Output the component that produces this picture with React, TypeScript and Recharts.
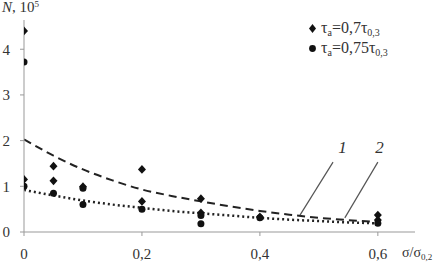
import React from 'react';
import {
  ComposedChart, Line, Scatter, XAxis, YAxis, ReferenceLine, ReferenceDot, Customized,
} from 'recharts';

const xTicks = [0, 0.2, 0.4, 0.6];
const yTicks = [0, 1, 2, 3, 4];

// τa = 0,7 τ0,3 (diamonds)
const s1X = [0, 0, 0.05, 0.05, 0.1, 0.2, 0.2, 0.3, 0.3, 0.4, 0.6, 0.6];
const s1Y = [4.4, 1.15, 1.44, 1.12, 0.99, 1.37, 0.67, 0.73, 0.42, 0.33, 0.37, 0.26];
// τa = 0,75 τ0,3 (circles)
const s2X = [0, 0, 0.05, 0.1, 0.1, 0.2, 0.3, 0.3, 0.4, 0.6];
const s2Y = [3.72, 1.0, 0.85, 0.96, 0.6, 0.5, 0.36, 0.18, 0.31, 0.19];

// trend curve 1 (dashed) and 2 (dotted)
const curveX = [0, 0.05, 0.1, 0.15, 0.2, 0.25, 0.3, 0.35, 0.4, 0.45, 0.5, 0.55, 0.6];
const curve1Y = [2.03, 1.67, 1.37, 1.13, 0.93, 0.79, 0.67, 0.56, 0.46, 0.38, 0.31, 0.26, 0.22];
const curve2Y = [0.92, 0.8, 0.69, 0.6, 0.53, 0.46, 0.41, 0.36, 0.31, 0.27, 0.24, 0.21, 0.19];

const s1 = s1X.map((x, i) => ({ x, y: s1Y[i] }));
const s2 = s2X.map((x, i) => ({ x, y: s2Y[i] }));
const c1 = curveX.map((x, i) => ({ x, y: curve1Y[i] }));
const c2 = curveX.map((x, i) => ({ x, y: curve2Y[i] }));

const FONT = "'Liberation Serif', 'DejaVu Serif', serif";
const TXT = '#333';
const fontStyle = { fontFamily: FONT };

const Diamond = (props: any) => {
  const { cx, cy } = props;
  if (cx == null || cy == null) return null;
  return <path d={`M${cx},${cy - 4.4} L${cx + 4},${cy} L${cx},${cy + 4.4} L${cx - 4},${cy} Z`} fill="#111" />;
};
const Dot = (props: any) => {
  const { cx, cy } = props;
  if (cx == null || cy == null) return null;
  return <circle cx={cx} cy={cy} r={3.5} fill="#111" />;
};

const Overlay = () => (
  <g style={fontStyle} fill={TXT}>
    <text x={2} y={12} fontSize={15} style={fontStyle}>
      <tspan fontStyle="italic">N</tspan>
      <tspan>, 10</tspan>
      <tspan fontSize={9} dy={-5}>5</tspan>
    </text>
    <text x={402} y={257} fontSize={14} style={fontStyle}>
      σ/σ<tspan fontSize={9} dy={3}>0,2</tspan>
    </text>
    <path d="M312.5,24 L316,28.5 L312.5,33 L309,28.5 Z" fill="#111" />
    <text x={321} y={33} fontSize={16} style={fontStyle}>
      τ<tspan fontSize={10} dy={3}>a</tspan>
      <tspan dy={-3}>=0,7τ</tspan>
      <tspan fontSize={10} dy={3}>0,3</tspan>
    </text>
    <circle cx={312.5} cy={48.5} r={3.4} fill="#111" />
    <text x={321} y={53} fontSize={16} style={fontStyle}>
      τ<tspan fontSize={10} dy={3}>a</tspan>
      <tspan dy={-3}>=0,75τ</tspan>
      <tspan fontSize={10} dy={3}>0,3</tspan>
    </text>
  </g>
);

const numLabel = (txt: string) => (props: any) => {
  const { viewBox } = props;
  return (
    <text x={viewBox.x} y={viewBox.y + 5} fontSize={17} fontStyle="italic" style={fontStyle} fill={TXT} textAnchor="middle">
      {txt}
    </text>
  );
};

export default function App() {
  return (
    <div style={{ position: 'absolute', left: 0, top: 0, width: 440, height: 268, background: '#fff', fontFamily: FONT }}>
      <ComposedChart width={440} height={268} margin={{ top: 20, right: 25, bottom: 6, left: 0 }} style={fontStyle}>
        <XAxis
          type="number"
          dataKey="x"
          domain={[0, 0.663]}
          ticks={xTicks}
          tickFormatter={(v: number) => String(v).replace('.', ',')}
          stroke="#999"
          tickSize={4}
          tickMargin={12}
          height={30}
          tick={{ fill: TXT, fontSize: 15, style: fontStyle }}
          allowDataOverflow
        />
        <YAxis
          type="number"
          dataKey="y"
          domain={[0, 4.64]}
          ticks={yTicks}
          stroke="#999"
          tickSize={4}
          tickMargin={10}
          width={24}
          tick={{ fill: TXT, fontSize: 15, style: fontStyle }}
          allowDataOverflow
        />
        <Line data={c1} dataKey="y" stroke="#222" strokeWidth={2} strokeDasharray="8 5" dot={false} isAnimationActive={false} type="monotone" />
        <Line data={c2} dataKey="y" stroke="#222" strokeWidth={2.5} strokeDasharray="2 3" dot={false} isAnimationActive={false} type="monotone" />
        <Scatter data={s1} dataKey="y" fill="#111" shape={Diamond} isAnimationActive={false} />
        <Scatter data={s2} dataKey="y" fill="#111" shape={Dot} isAnimationActive={false} />
        <ReferenceLine segment={[{ x: 0.468, y: 0.37 }, { x: 0.524, y: 1.53 }]} stroke="#555" strokeWidth={1.2} />
        <ReferenceLine segment={[{ x: 0.544, y: 0.31 }, { x: 0.6, y: 1.53 }]} stroke="#555" strokeWidth={1.2} />
        <ReferenceDot x={0.54} y={1.84} r={0} fill="none" stroke="none" label={numLabel('1')} />
        <ReferenceDot x={0.603} y={1.84} r={0} fill="none" stroke="none" label={numLabel('2')} />
        <Customized component={Overlay} />
      </ComposedChart>
    </div>
  );
}
